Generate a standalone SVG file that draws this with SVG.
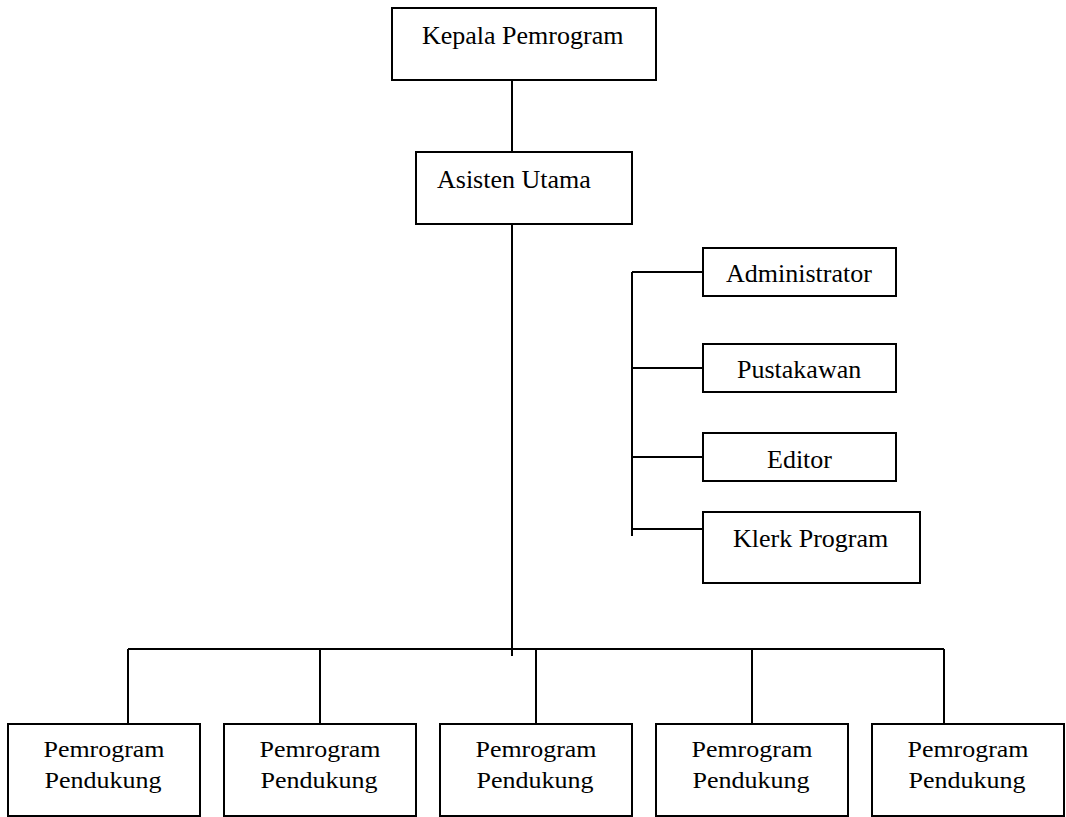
<svg xmlns="http://www.w3.org/2000/svg" width="1066" height="817" viewBox="0 0 1066 817">
<style>
.box{fill:#fff;stroke:#000;stroke-width:2}
.ln{fill:none;stroke:#000;stroke-width:2}
text{font-family:"Liberation Serif","Times New Roman",serif;font-size:26px;fill:#000}
.c{text-anchor:middle}
.s{font-size:23px}
</style>
<rect width="1066" height="817" fill="#fff"/>
<g id="connectors" class="ln">
<line x1="512" y1="80" x2="512" y2="152"/>
<line x1="512" y1="224" x2="512" y2="656"/>
<line x1="128" y1="649" x2="944" y2="649"/>
<line x1="128" y1="649" x2="128" y2="724"/>
<line x1="320" y1="649" x2="320" y2="724"/>
<line x1="536" y1="649" x2="536" y2="724"/>
<line x1="752" y1="649" x2="752" y2="724"/>
<line x1="944" y1="649" x2="944" y2="724"/>
<line x1="632" y1="272" x2="632" y2="536"/>
<line x1="632" y1="272" x2="703" y2="272"/>
<line x1="632" y1="368" x2="703" y2="368"/>
<line x1="632" y1="457" x2="703" y2="457"/>
<line x1="632" y1="529" x2="703" y2="529"/>
</g>
<g id="kepala"><rect class="box" x="392" y="8" width="264" height="72"/><text x="422" y="44">Kepala Pemrogram</text></g>
<g id="asisten"><rect class="box" x="416" y="152" width="216" height="72"/><text x="437" y="188">Asisten Utama</text></g>
<g id="administrator"><rect class="box" x="703" y="248" width="193" height="48"/><text x="726" y="282">Administrator</text></g>
<g id="pustakawan"><rect class="box" x="703" y="344" width="193" height="48"/><text x="737" y="378">Pustakawan</text></g>
<g id="editor"><rect class="box" x="703" y="433" width="193" height="48"/><text x="767" y="468">Editor</text></g>
<g id="klerk"><rect class="box" x="703" y="512" width="217" height="71"/><text x="733" y="547">Klerk Program</text></g>
<g id="pp1"><rect class="box" x="8" y="724" width="192" height="92"/><text class="c s" x="104" y="757" textLength="121" lengthAdjust="spacingAndGlyphs">Pemrogram</text><text class="c s" x="103" y="788" textLength="117" lengthAdjust="spacingAndGlyphs">Pendukung</text></g>
<g id="pp2"><rect class="box" x="224" y="724" width="192" height="92"/><text class="c s" x="320" y="757" textLength="121" lengthAdjust="spacingAndGlyphs">Pemrogram</text><text class="c s" x="319" y="788" textLength="117" lengthAdjust="spacingAndGlyphs">Pendukung</text></g>
<g id="pp3"><rect class="box" x="440" y="724" width="192" height="92"/><text class="c s" x="536" y="757" textLength="121" lengthAdjust="spacingAndGlyphs">Pemrogram</text><text class="c s" x="535" y="788" textLength="117" lengthAdjust="spacingAndGlyphs">Pendukung</text></g>
<g id="pp4"><rect class="box" x="656" y="724" width="192" height="92"/><text class="c s" x="752" y="757" textLength="121" lengthAdjust="spacingAndGlyphs">Pemrogram</text><text class="c s" x="751" y="788" textLength="117" lengthAdjust="spacingAndGlyphs">Pendukung</text></g>
<g id="pp5"><rect class="box" x="872" y="724" width="192" height="92"/><text class="c s" x="968" y="757" textLength="121" lengthAdjust="spacingAndGlyphs">Pemrogram</text><text class="c s" x="967" y="788" textLength="117" lengthAdjust="spacingAndGlyphs">Pendukung</text></g>
</svg>
